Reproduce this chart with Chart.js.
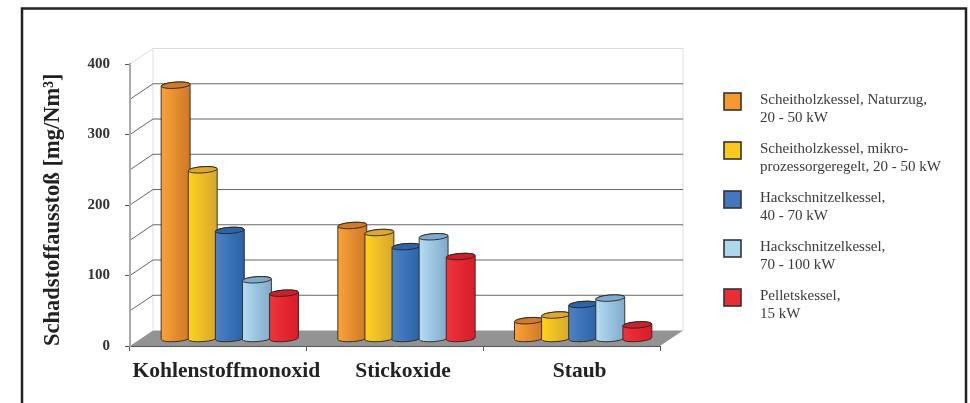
<!DOCTYPE html>
<html>
<head>
<meta charset="utf-8">
<style>
  html, body { margin: 0; padding: 0; background: #fff; }
  canvas { display: block; }
</style>
<script src="https://cdn.jsdelivr.net/npm/chart.js@4/dist/chart.umd.min.js"></script>
</head>
<body>
<canvas id="chart" width="970" height="403"></canvas>
<script>
const categories = ['Kohlenstoffmonoxid', 'Stickoxide', 'Staub'];
const naturzug = [360, 161, 26];
const mikro = [240, 151, 34];
const hack40 = [154, 131, 49];
const hack70 = [84, 145, 58];
const pellets = [65, 117, 20];

const legendLabels = [
  ['Scheitholzkessel, Naturzug,', '20 - 50 kW'],
  ['Scheitholzkessel, mikro-', 'prozessorgeregelt, 20 - 50 kW'],
  ['Hackschnitzelkessel,', '40 - 70 kW'],
  ['Hackschnitzelkessel,', '70 - 100 kW'],
  ['Pelletskessel,', '15 kW']
];

const FONT = '"Liberation Serif", serif';
const DEPTH_X = 23, DEPTH_Y = -15.5;
// cylinders stand halfway into the floor
const BAR_SHIFT_X = 11.5, BAR_SHIFT_Y = -7;

// left, right, top of the cylinder body
const palette = [
  { swatch: '#F59A30', left: '#FBA236', right: '#CB7829', cap: '#D07B28' },
  { swatch: '#FAC81E', left: '#FFD21E', right: '#D6A62C', cap: '#DCA92E' },
  { swatch: '#4478BC', left: '#4E82C4', right: '#2862A8', cap: '#2A64A9' },
  { swatch: '#ADD6EF', left: '#B5DCF2', right: '#7FAACC', cap: '#7DAAD0' },
  { swatch: '#EC2C33', left: '#F0343C', right: '#D81C28', cap: '#C9212E' }
];

function drawCylinder(ctx, el, colors) {
  const cx = el.x + BAR_SHIFT_X;
  const top = el.y + BAR_SHIFT_Y;
  const base = el.base + BAR_SHIFT_Y;
  const rx = el.width / 2, ry = 3.1, tilt = -0.07;

  const grad = ctx.createLinearGradient(cx - rx, 0, cx + rx, 0);
  grad.addColorStop(0, colors.left);
  grad.addColorStop(1, colors.right);

  ctx.beginPath();
  ctx.ellipse(cx, base, rx, ry, tilt, 0, Math.PI);
  ctx.ellipse(cx, top, rx, ry, tilt, Math.PI, Math.PI * 2);
  ctx.closePath();
  ctx.fillStyle = grad;
  ctx.fill();
  ctx.strokeStyle = '#2e241a';
  ctx.lineWidth = 0.9;
  ctx.stroke();

  ctx.beginPath();
  ctx.ellipse(cx, top, rx, ry, tilt, 0, Math.PI * 2);
  ctx.fillStyle = colors.cap;
  ctx.fill();
  ctx.stroke();
}

const scenePlugin = {
  id: 'scene',
  beforeDraw(chart) {
    const { ctx, chartArea: a, scales: { y } } = chart;
    ctx.save();

    // outer frame, runs off the bottom of the page
    ctx.strokeStyle = '#222';
    ctx.lineWidth = 2.5;
    ctx.beginPath();
    ctx.moveTo(22, 403);
    ctx.lineTo(22, 8.5);
    ctx.lineTo(966, 8.5);
    ctx.lineTo(966, 403);
    ctx.stroke();

    // floor
    ctx.fillStyle = '#939393';
    ctx.beginPath();
    ctx.moveTo(a.left, a.bottom);
    ctx.lineTo(a.left + DEPTH_X, a.bottom + DEPTH_Y);
    ctx.lineTo(a.right + DEPTH_X, a.bottom + DEPTH_Y);
    ctx.lineTo(a.right, a.bottom);
    ctx.closePath();
    ctx.fill();

    // walls
    ctx.strokeStyle = '#dcdcdc';
    ctx.lineWidth = 1;
    ctx.beginPath();
    ctx.moveTo(a.left, a.top);
    ctx.lineTo(a.left + DEPTH_X, a.top + DEPTH_Y);
    ctx.lineTo(a.right + DEPTH_X, a.top + DEPTH_Y);
    ctx.lineTo(a.right + DEPTH_X, a.bottom + DEPTH_Y);
    ctx.moveTo(a.left + DEPTH_X, a.top + DEPTH_Y);
    ctx.lineTo(a.left + DEPTH_X, a.bottom + DEPTH_Y);
    ctx.stroke();

    // grid lines on both walls
    ctx.strokeStyle = '#555';
    ctx.lineWidth = 0.9;
    y.ticks.forEach(t => {
      if (t.value === 0 || t.value === 400) return;
      const py = y.getPixelForValue(t.value);
      ctx.beginPath();
      ctx.moveTo(a.left, py);
      ctx.lineTo(a.left + DEPTH_X, py + DEPTH_Y);
      ctx.lineTo(a.right + DEPTH_X, py + DEPTH_Y);
      ctx.stroke();
    });
    ctx.restore();
  },
  beforeDatasetsDraw(chart) {
    // left to right, so each cylinder sits on top of the one before
    const { ctx } = chart;
    ctx.save();
    chart.data.datasets.forEach((ds, i) => {
      chart.getDatasetMeta(i).data.forEach(el => drawCylinder(ctx, el, palette[i]));
    });
    ctx.restore();
    return false;
  },
  afterDraw(chart) {
    const { ctx } = chart;
    ctx.save();
    ctx.font = '15px ' + FONT;
    ctx.textBaseline = 'middle';
    chart.data.datasets.forEach((ds, i) => {
      const top = 93 + i * 49;
      ctx.fillStyle = palette[i].swatch;
      ctx.fillRect(724, top, 17, 17);
      ctx.strokeStyle = '#333';
      ctx.lineWidth = 1.6;
      ctx.strokeRect(724, top, 17, 17);
      ctx.fillStyle = '#3a3a3a';
      ds.label.forEach((line, n) => ctx.fillText(line, 760, top + 7 + n * 18));
    });
    ctx.restore();
  }
};

const chart = new Chart(document.getElementById('chart'), {
  type: 'bar',
  data: {
    labels: categories,
    datasets: [naturzug, mikro, hack40, hack70, pellets].map((values, i) => ({
      label: legendLabels[i],
      data: values
    }))
  },
  plugins: [scenePlugin],
  options: {
    responsive: false,
    animation: false,
    layout: { padding: { top: 64, right: 310, left: 0, bottom: 0 } },
    categoryPercentage: 0.767,
    barPercentage: 1.07,
    plugins: { legend: { display: false }, tooltip: { enabled: false } },
    scales: {
      x: {
        afterFit: s => { s.height = 57; },
        border: { color: '#555', width: 1 },
        grid: { drawOnChartArea: false, tickLength: 5, tickColor: '#555', offset: true },
        ticks: {
          autoSkip: false,
          maxRotation: 0,
          padding: 8,
          labelOffset: 8,
          color: '#222',
          font: { family: FONT, size: 21.5, weight: 'bold' }
        }
      },
      y: {
        min: 0,
        max: 400,
        afterFit: s => { s.width = 130; },
        border: { color: '#aaa', width: 2 },
        grid: {
          drawOnChartArea: false,
          tickLength: 5,
          tickColor: c => (c.tick.value % 100 === 0 ? '#555' : 'transparent')
        },
        ticks: {
          stepSize: 50,
          autoSkip: false,
          padding: 15,
          color: '#333',
          font: { family: FONT, size: 15, weight: 'bold' },
          callback: v => (v % 100 === 0 ? v : '')
        },
        title: {
          display: true,
          text: 'Schadstoffausstoß [mg/Nm³]',
          align: 'start',
          color: '#222',
          padding: { top: 40, bottom: 0 },
          font: { family: FONT, size: 22.5, weight: 'bold' }
        }
      }
    }
  }
});
</script>
</body>
</html>
